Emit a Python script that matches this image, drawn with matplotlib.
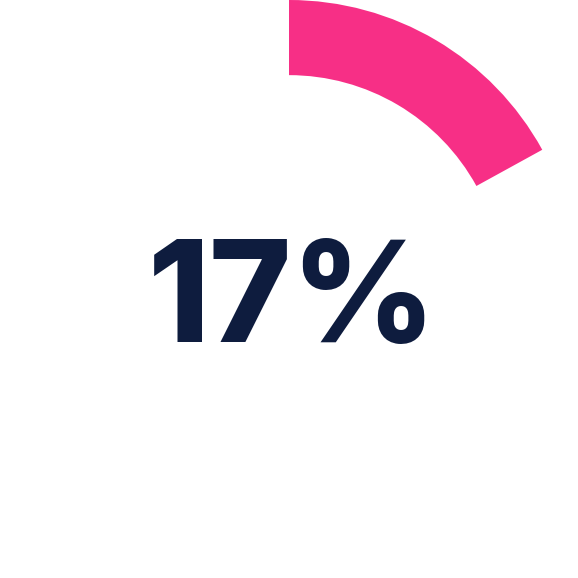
import matplotlib
matplotlib.use("Agg")
import matplotlib.pyplot as plt

values = [17, 83]
colors = ["#f72f86", "none"]
label = "17%"

fig = plt.figure(figsize=(5.78, 5.78), dpi=100)
ax = fig.add_axes([0, 0, 1, 1])
ax.pie(values, colors=colors, startangle=90, counterclock=False,
       radius=1, wedgeprops=dict(width=0.26, edgecolor="none"))
ax.set_xlim(-1, 1)
ax.set_ylim(-1, 1)
ax.set_aspect("equal")
ax.axis("off")

ax.text(0.01, -0.185, label, ha="center", va="baseline",
        fontsize=101, fontweight="heavy", family="Inter", color="#0e1c3e")

fig.savefig("out.png", dpi=100, facecolor="white")
